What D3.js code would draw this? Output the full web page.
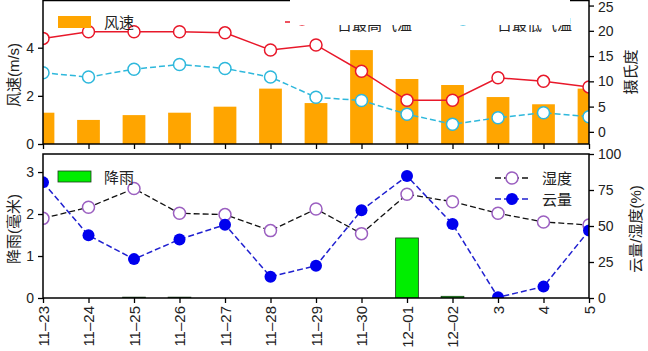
<!DOCTYPE html>
<html>
<head>
<meta charset="utf-8">
<script src="https://cdn.jsdelivr.net/npm/d3@7"></script>
<style>
  body { margin: 0; background: #fff; }
  svg { display: block; font-family: "Liberation Sans", Arial, "Noto Sans CJK SC", sans-serif; }
  .axis path, .axis line { stroke: #000; stroke-width: 1.3; }
  .axis text { font-size: 14px; fill: #222; }
  .frame { fill: none; stroke: #000; stroke-width: 1.5; }
</style>
</head>
<body>
<svg id="chart" width="648" height="351"></svg>
<script>
// data
const dates = ['11-23', '11-24', '11-25', '11-26', '11-27', '11-28', '11-29',
    '11-30', '12-01', '12-02', '12-03', '12-04', '12-05'];
const dateLabels = ['11–23', '11–24', '11–25', '11–26', '11–27', '11–28', '11–29',
    '11–30', '12–01', '12–02', '3', '4', '5'];
const windSpeed = [1.3, 1.0, 1.2, 1.3, 1.55, 2.3, 1.7, 3.9, 2.7, 2.45, 1.95, 1.65, 2.3];
const tempMax = [18.5, 19.8, 19.8, 19.8, 19.6, 16.2, 17.2, 12.0, 6.25, 6.25, 10.7, 10.0, 8.9];
const tempMin = [11.7, 10.85, 12.4, 13.35, 12.55, 10.85, 6.85, 6.2, 3.5, 1.5, 2.8, 3.8, 3.0];
const rain = [0, 0, 0.02, 0.02, 0, 0, 0, 0, 1.43, 0.04, 0, 0, 0];
const humidity = [55.3, 63, 76, 58.8, 57.9, 46.8, 61.8, 44.7, 72, 66.9, 58.8, 52.8, 50.7];
const cloud = [80.3, 43.5, 27, 40.7, 50.9, 14.8, 22.4, 60.9, 84.7, 51.4, 0.5, 7.9, 46.8];

const windTicks = [0, 2, 4];
const tempTicks = [0, 5, 10, 15, 20, 25];
const rainTicks = [0, 1, 2, 3];
const pctTicks = [0, 25, 50, 75, 100];

const left = 43, right = 589;
const top1 = 0.5, bottom1 = 144;
const top2 = 154, bottom2 = 298;

const fmt = d3.format('d');

const svg = d3.select('#chart');

const x = d3.scalePoint().domain(dates).range([left, right]);
const barW = x.step() * 0.5;

const yWind = d3.scaleLinear().domain([0, 5.96]).range([bottom1, top1]);
const yTemp = d3.scaleLinear().domain([-2.4, 26]).range([bottom1, top1]);
const yRain = d3.scaleLinear().domain([0, 3.43]).range([bottom2, top2]);
const yPct = d3.scaleLinear().domain([0, 100]).range([bottom2, top2]);

const defs = svg.append('defs');
defs.append('clipPath').attr('id', 'clip1')
    .append('rect').attr('x', left).attr('y', top1).attr('width', right - left).attr('height', bottom1 - top1);
defs.append('clipPath').attr('id', 'clip2')
    .append('rect').attr('x', left).attr('y', top2).attr('width', right - left).attr('height', bottom2 - top2);

// ---- top panel ----
const p1 = svg.append('g').attr('clip-path', 'url(#clip1)');

p1.selectAll('.wind').data(windSpeed)
    .enter().append('rect')
        .attr('class', 'wind')
        .attr('x', (d, i) => x(dates[i]) - barW / 2)
        .attr('y', d => yWind(d))
        .attr('width', barW)
        .attr('height', d => yWind(0) - yWind(d))
        .attr('fill', '#ffa500');

const lineTemp = d3.line().x((d, i) => x(dates[i])).y(d => yTemp(d));

p1.append('path').datum(tempMax)
    .attr('d', lineTemp).attr('fill', 'none')
    .attr('stroke', '#e8182a').attr('stroke-width', 1.5);
p1.append('path').datum(tempMin)
    .attr('d', lineTemp).attr('fill', 'none')
    .attr('stroke', '#2eb8dc').attr('stroke-width', 1.5).attr('stroke-dasharray', '6,3');

p1.selectAll('.tmax').data(tempMax)
    .enter().append('circle')
        .attr('cx', (d, i) => x(dates[i])).attr('cy', d => yTemp(d)).attr('r', 6)
        .attr('fill', '#fff').attr('stroke', '#e8182a').attr('stroke-width', 1.5);
p1.selectAll('.tmin').data(tempMin)
    .enter().append('circle')
        .attr('cx', (d, i) => x(dates[i])).attr('cy', d => yTemp(d)).attr('r', 6)
        .attr('fill', '#fff').attr('stroke', '#2eb8dc').attr('stroke-width', 1.5);

svg.append('rect').attr('class', 'frame')
    .attr('x', left).attr('y', top1).attr('width', right - left).attr('height', bottom1 - top1);

svg.append('g').attr('class', 'axis')
    .attr('transform', `translate(${left},0)`)
    .call(d3.axisLeft(yWind).tickValues(windTicks).tickFormat(fmt).tickSize(5).tickPadding(4))
    .call(g => g.select('.domain').remove());
svg.append('g').attr('class', 'axis')
    .attr('transform', `translate(${right},0)`)
    .call(d3.axisRight(yTemp).tickValues(tempTicks).tickFormat(fmt).tickSize(5).tickPadding(4))
    .call(g => g.select('.domain').remove())
    .call(g => g.selectAll('text').filter(d => d === 25).attr('dy', '0.42em'));
svg.append('g').attr('class', 'axis')
    .attr('transform', `translate(0,${bottom1})`)
    .call(d3.axisBottom(x).tickSize(5).tickFormat(''))
    .call(g => g.select('.domain').remove());

// legend: wind
svg.append('rect').attr('x', 58).attr('y', 16).attr('width', 33).attr('height', 12).attr('fill', '#ffa500');
svg.append('text').attr('x', 104).attr('y', 28).attr('font-size', 15).attr('fill', '#222').text('风速');

// legend: temperatures (mostly hidden under a white box)
const tLeg = svg.append('g');
tLeg.append('line').attr('x1', 285).attr('x2', 320).attr('y1', 22).attr('y2', 22)
    .attr('stroke', '#e8182a').attr('stroke-width', 1.5);
tLeg.append('circle').attr('cx', 302).attr('cy', 19).attr('r', 6)
    .attr('fill', '#fff').attr('stroke', '#e8182a').attr('stroke-width', 1.5);
tLeg.append('text').attr('x', 337).attr('y', 30).attr('font-size', 15).attr('fill', '#222').text('日最高气温');
tLeg.append('line').attr('x1', 445).attr('x2', 481).attr('y1', 18).attr('y2', 18)
    .attr('stroke', '#2eb8dc').attr('stroke-width', 1.5).attr('stroke-dasharray', '6,3');
tLeg.append('circle').attr('cx', 463).attr('cy', 19).attr('r', 6)
    .attr('fill', '#fff').attr('stroke', '#2eb8dc').attr('stroke-width', 1.5);
tLeg.append('text').attr('x', 497).attr('y', 30).attr('font-size', 15).attr('fill', '#222').text('日最低气温');
svg.append('rect').attr('x', 290).attr('y', 0).attr('width', 280).attr('height', 25).attr('fill', '#fff');

svg.append('text')
    .attr('transform', 'translate(19,75) rotate(-90)')
    .attr('text-anchor', 'middle').attr('font-size', 15).attr('fill', '#222')
    .text('风速(m/s)');
svg.append('text')
    .attr('transform', 'translate(636,72) rotate(-90)')
    .attr('text-anchor', 'middle').attr('font-size', 15).attr('fill', '#222')
    .text('摄氏度');

// ---- bottom panel ----
const p2 = svg.append('g').attr('clip-path', 'url(#clip2)');

p2.selectAll('.rain').data(rain)
    .enter().append('rect')
        .attr('x', (d, i) => x(dates[i]) - barW / 2)
        .attr('y', d => yRain(d))
        .attr('width', barW)
        .attr('height', d => yRain(0) - yRain(d))
        .attr('fill', '#00ee00').attr('stroke', '#1a3a1a').attr('stroke-width', 0.8);

const linePct = d3.line().x((d, i) => x(dates[i])).y(d => yPct(d));

p2.append('path').datum(humidity)
    .attr('d', linePct).attr('fill', 'none')
    .attr('stroke', '#111').attr('stroke-width', 1.3).attr('stroke-dasharray', '6,3');
p2.append('path').datum(cloud)
    .attr('d', linePct).attr('fill', 'none')
    .attr('stroke', '#2020d0').attr('stroke-width', 1.5).attr('stroke-dasharray', '6,3');

p2.selectAll('.hum').data(humidity)
    .enter().append('circle')
        .attr('cx', (d, i) => x(dates[i])).attr('cy', d => yPct(d)).attr('r', 6)
        .attr('fill', '#fff').attr('stroke', '#9b5fc0').attr('stroke-width', 1.5);
p2.selectAll('.cld').data(cloud)
    .enter().append('circle')
        .attr('cx', (d, i) => x(dates[i])).attr('cy', d => yPct(d)).attr('r', 6)
        .attr('fill', '#0000ee');

svg.append('rect').attr('class', 'frame')
    .attr('x', left).attr('y', top2).attr('width', right - left).attr('height', bottom2 - top2);

svg.append('g').attr('class', 'axis')
    .attr('transform', `translate(${left},0)`)
    .call(d3.axisLeft(yRain).tickValues(rainTicks).tickFormat(fmt).tickSize(5).tickPadding(4))
    .call(g => g.select('.domain').remove());
svg.append('g').attr('class', 'axis')
    .attr('transform', `translate(${right},0)`)
    .call(d3.axisRight(yPct).tickValues(pctTicks).tickFormat(fmt).tickSize(5).tickPadding(4))
    .call(g => g.select('.domain').remove());
svg.append('g').attr('class', 'axis')
    .attr('transform', `translate(0,${bottom2})`)
    .call(d3.axisBottom(x).tickSize(5).tickFormat((d, i) => dateLabels[i]))
    .call(g => g.select('.domain').remove())
    .call(g => g.selectAll('text')
        .attr('transform', 'rotate(-90)')
        .attr('x', -8).attr('y', 0).attr('dy', '0.35em')
        .style('font-size', '15px')
        .style('text-anchor', 'end'));

// legend: rain
svg.append('rect').attr('x', 58).attr('y', 171).attr('width', 33).attr('height', 11)
    .attr('fill', '#00ee00').attr('stroke', '#1a3a1a').attr('stroke-width', 0.8);
svg.append('text').attr('x', 104).attr('y', 183).attr('font-size', 15).attr('fill', '#222').text('降雨');

// legend: humidity / cloud
const rLeg = svg.append('g');
rLeg.append('line').attr('x1', 495).attr('x2', 530).attr('y1', 178).attr('y2', 178)
    .attr('stroke', '#111').attr('stroke-width', 1.3).attr('stroke-dasharray', '6,3');
rLeg.append('circle').attr('cx', 512).attr('cy', 178).attr('r', 6)
    .attr('fill', '#fff').attr('stroke', '#9b5fc0').attr('stroke-width', 1.5);
rLeg.append('text').attr('x', 542).attr('y', 184).attr('font-size', 15).attr('fill', '#222').text('湿度');
rLeg.append('line').attr('x1', 495).attr('x2', 530).attr('y1', 199).attr('y2', 199)
    .attr('stroke', '#2020d0').attr('stroke-width', 1.5).attr('stroke-dasharray', '6,3');
rLeg.append('circle').attr('cx', 512).attr('cy', 199).attr('r', 6).attr('fill', '#0000ee');
rLeg.append('text').attr('x', 542).attr('y', 205).attr('font-size', 15).attr('fill', '#222').text('云量');

svg.append('text')
    .attr('transform', 'translate(19,229) rotate(-90)')
    .attr('text-anchor', 'middle').attr('font-size', 15).attr('fill', '#222')
    .text('降雨(毫米)');
svg.append('text')
    .attr('transform', 'translate(641,229) rotate(-90)')
    .attr('text-anchor', 'middle').attr('font-size', 15).attr('fill', '#222')
    .text('云量/湿度(%)');
</script>
</body>
</html>
